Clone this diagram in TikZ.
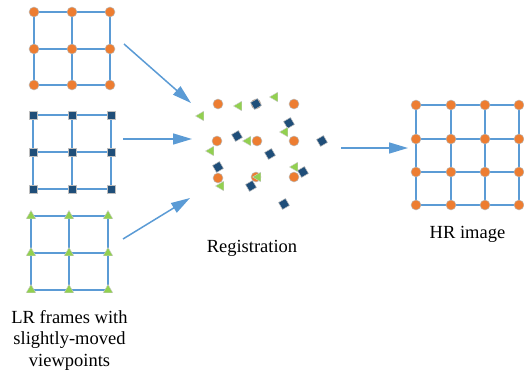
\documentclass[tikz,border=0pt]{standalone}
\usepackage{fontspec}
\setmainfont{Liberation Serif}
\usetikzlibrary{shapes.geometric,arrows.meta}
\definecolor{lineblue}{HTML}{5B9BD5}
\definecolor{dotorange}{HTML}{ED7D31}
\definecolor{sqblue}{HTML}{1F4E79}
\definecolor{trigreen}{HTML}{92D050}
\tikzset{
  gridline/.style={lineblue, line width=2pt},
  odot/.style={circle, fill=dotorange, draw=black!25, line width=0.5pt, minimum size=10pt, inner sep=0pt},
  bsq/.style={rectangle, fill=sqblue, draw=black!25, line width=0.5pt, minimum size=8pt, inner sep=0pt},
  gtri/.style={regular polygon, regular polygon sides=3, fill=trigreen, draw=black!20, line width=0.4pt, minimum size=11pt, inner sep=0pt},
  flow/.style={lineblue, line width=1.5pt, -{Triangle[length=19pt,width=11pt]}},
  lbl/.style={font=\rmfamily\fontsize{18.5}{21.5}\selectfont, align=center, inner sep=0pt},
}
\begin{document}
\begin{tikzpicture}[x=1pt,y=-1pt]
\useasboundingbox (0,0) rectangle (524,369);
% ---- grid 1: orange circles
\foreach \i/\x in {1/34,2/72,3/110}
  \foreach \j/\y in {1/12,2/49,3/85}
    \coordinate (a\i\j) at (\x,\y);
\foreach \j in {1,2,3} \draw[gridline] (a1\j) -- (a3\j);
\foreach \i in {1,2,3} \draw[gridline] (a\i1) -- (a\i3);
\foreach \i in {1,2,3} \foreach \j in {1,2,3} \node[odot] at (a\i\j) {};
% ---- grid 2: squares
\foreach \i/\x in {1/33,2/72,3/111}
  \foreach \j/\y in {1/115,2/152,3/189}
    \coordinate (b\i\j) at (\x,\y);
\foreach \j in {1,2,3} \draw[gridline] (b1\j) -- (b3\j);
\foreach \i in {1,2,3} \draw[gridline] (b\i1) -- (b\i3);
\foreach \i in {1,2,3} \foreach \j in {1,2,3} \node[bsq] at (b\i\j) {};
% ---- grid 3: triangles
\foreach \i/\x in {1/31,2/69,3/108}
  \foreach \j/\y in {1/216,2/253,3/290}
    \coordinate (c\i\j) at (\x,\y);
\foreach \j in {1,2,3} \draw[gridline] (c1\j) -- (c3\j);
\foreach \i in {1,2,3} \draw[gridline] (c\i1) -- (c\i3);
\foreach \i in {1,2,3} \foreach \j in {1,2,3} \node[gtri] at (c\i\j) {};
% ---- HR grid
\foreach \i/\x in {1/416,2/451,3/485,4/519}
  \foreach \j/\y in {1/105,2/139,3/172,4/205}
    \coordinate (h\i\j) at (\x,\y);
\foreach \j in {1,2,3,4} \draw[gridline] (h1\j) -- (h4\j);
\foreach \i in {1,2,3,4} \draw[gridline] (h\i1) -- (h\i4);
\foreach \i in {1,2,3,4} \foreach \j in {1,2,3,4} \node[odot] at (h\i\j) {};
% ---- registration scatter
\foreach \p in {(218,104),(256,104),(294,104),(217,141),(257,141),(294,141),(218,178),(256,177),(294,177)}
  \node[odot] at \p {};
\foreach \p in {(256,104),(289,123),(237,136),(270,154),(322,141),(218,167),(303,172),(251,186),(284,204)}
  \node[bsq, rotate=30] at \p {};
\foreach \p in {(201,116),(239,106),(275,97),(248,141),(285,132),(211,151),(295,167),(221,186),(258,177)}
  \node[gtri, rotate=-30] at \p {};
% ---- arrows
\coordinate (s1) at (124,44);  \coordinate (e1) at (191,103);
\coordinate (s2) at (123,139); \coordinate (e2) at (192,139);
\coordinate (s3) at (123,239); \coordinate (e3) at (190,198);
\coordinate (s4) at (341,148); \coordinate (e4) at (408,148);
\draw[flow] (s1) -- (e1);
\draw[flow] (s2) -- (e2);
\draw[flow] (s3) -- (e3);
\draw[flow] (s4) -- (e4);
% ---- labels
\node[lbl, anchor=base] (reg) at (252,252.5) {Registration};
\node[lbl, anchor=base] (hr) at (467.5,238.3) {HR image};
\node[lbl, anchor=base] (lr1) at (69.5,323.3) {LR frames with};
\node[lbl, anchor=base] (lr2) at (69.5,344.8) {slightly-moved};
\node[lbl, anchor=base] (lr3) at (69.5,366.3) {viewpoints};
\end{tikzpicture}
\end{document}
